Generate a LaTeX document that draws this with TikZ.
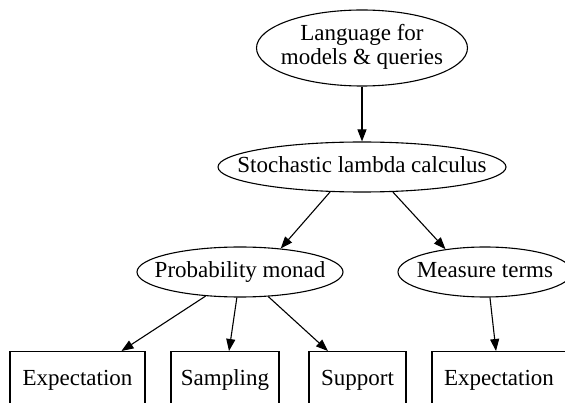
\documentclass[tikz,border=0pt]{standalone}
\usepackage{fontspec}
\setmainfont{Liberation Serif}
\usetikzlibrary{shapes.geometric,arrows.meta}
\begin{document}
\begin{tikzpicture}[x=1pt,y=-1pt,>={Triangle[length=12pt,width=9pt]},line width=1.1pt,
        every node/.style={font=\fontsize{23}{24}\selectfont},
        ell/.style={draw,ellipse,inner sep=0pt,minimum height=50pt,text height=16pt,text depth=5pt},
        box/.style={draw,rectangle,inner sep=0pt,minimum height=56pt,anchor=north,text height=16pt,text depth=5pt}]
        \useasboundingbox(0,0)rectangle(565,403);\clip(0,0)rectangle(565,403);
        \node[draw,ellipse,inner sep=0pt,minimum width=211pt,minimum height=76pt](lang)at(362,48){\makebox[0pt]{\begin{tabular}{@{}c@{}}Language for\\models \& queries\end{tabular}}};
        \node[ell,minimum width=288pt](slc)at(362,167){\makebox[0pt]{Stochastic lambda calculus}};
        \node[ell,minimum width=206pt](pm)at(240,272){\makebox[0pt]{Probability monad}};
        \node[ell,minimum width=174pt](mt)at(485,272){\makebox[0pt]{Measure terms}};
        \node[box,minimum width=135pt](ex)at(77.5,351){Expectation};
        \node[box,minimum width=108pt](sa)at(225,351){Sampling};
        \node[box,minimum width=97pt](su)at(357.5,351){Support};
        \node[box,minimum width=134pt](mex)at(499,351){Expectation};
        \draw[->](lang.south)--(slc.north);
        \draw[->](slc.218)--(pm.30);\draw[->](slc.-39)--(mt.150);
        \draw[->](pm.215)--(ex.33);\draw[->](pm.-97)--(sa.82);\draw[->](pm.-41)--(su.136);
        \draw[->](mt.-79)--(mex.96);
    \end{tikzpicture}
\end{document}
